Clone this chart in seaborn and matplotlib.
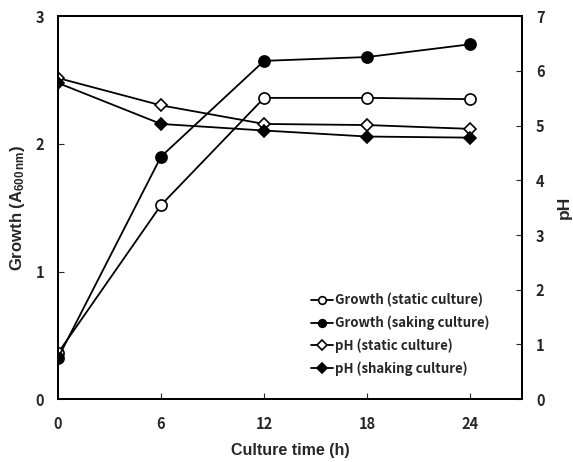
import matplotlib
matplotlib.use("Agg")
import matplotlib.pyplot as plt
import seaborn as sns
import pandas as pd

time_h = [0, 6, 12, 18, 24]
growth_static = [0.36, 1.52, 2.36, 2.36, 2.35]
growth_shaking = [0.32, 1.90, 2.65, 2.68, 2.78]
ph_static = [5.87, 5.37, 5.03, 5.01, 4.94]
ph_shaking = [5.78, 5.03, 4.91, 4.80, 4.78]

labels = ["Growth (static culture)", "Growth (saking culture)",
          "pH (static culture)", "pH (shaking culture)"]


def main():
    sns.set_style("ticks")
    plt.rcParams["font.family"] = ["Noto Sans CJK KR", "DejaVu Sans"]
    plt.rcParams["mathtext.fontset"] = "custom"
    plt.rcParams["mathtext.rm"] = "Liberation Sans"

    df = pd.DataFrame({"time": time_h, "gs": growth_static, "gk": growth_shaking,
                       "ps": ph_static, "pk": ph_shaking})

    fig = plt.figure(figsize=(5.73, 4.62), dpi=100)
    ax = fig.add_axes([0.101, 0.136, 0.81, 0.829])
    ax2 = ax.twinx()

    line_kw = dict(color="black", linewidth=1.3, markeredgecolor="black", markeredgewidth=1.2)
    sns.lineplot(data=df, x="time", y="gs", ax=ax, marker="o", markersize=8,
                 markerfacecolor="white", label=labels[0], legend=False, **line_kw)
    sns.lineplot(data=df, x="time", y="gk", ax=ax, marker="o", markersize=8,
                 markerfacecolor="black", label=labels[1], legend=False, **line_kw)
    sns.lineplot(data=df, x="time", y="ps", ax=ax2, marker="D", markersize=6,
                 markerfacecolor="white", label=labels[2], legend=False, **line_kw)
    sns.lineplot(data=df, x="time", y="pk", ax=ax2, marker="D", markersize=6,
                 markerfacecolor="black", label=labels[3], legend=False, **line_kw)

    ax.set_xlim(0, 27)
    ax.set_ylim(0, 3)
    ax2.set_ylim(0, 7)
    ax.set_xticks(time_h)
    ax.set_yticks([0, 1, 2, 3])
    ax2.set_yticks(range(0, 8))

    tick_font = dict(fontsize=10.5, fontweight="bold")
    ax.set_xticklabels([str(t) for t in time_h], **tick_font)
    ax.set_yticklabels(["0", "1", "2", "3"], **tick_font)
    ax2.set_yticklabels([str(v) for v in range(0, 8)], **tick_font)

    ax.tick_params(axis="x", direction="in", length=4, width=0.8, pad=12)
    ax.tick_params(axis="y", direction="in", length=4, width=0.8, pad=10)
    ax2.tick_params(axis="y", direction="in", length=4, width=0.8, pad=10)

    for a in (ax, ax2):
        for s in a.spines.values():
            s.set_visible(True)
            s.set_linewidth(1.4)
            s.set_color("black")

    ax.set_xlabel("Culture time (h)", fontsize=11.5, fontweight="bold",
                  family="Liberation Sans", labelpad=8)
    ax.set_ylabel(r"Growth (A$\mathregular{_{600\,nm}}$)", fontsize=12, fontweight="bold",
                  family="Liberation Sans", labelpad=6)
    ax2.set_ylabel("pH", fontsize=12.5, fontweight="bold", family="Liberation Sans",
                   labelpad=9)

    handles = ax.get_lines()[:2] + ax2.get_lines()[:2]
    leg = ax2.legend(handles, labels, loc="lower right", bbox_to_anchor=(0.955, 0.03),
                     frameon=False, handlelength=1.7, handletextpad=0.1,
                     labelspacing=0.62, prop=dict(size=9.5, weight="bold",
                                                  family=["Noto Sans CJK KR", "DejaVu Sans"]))
    for h in leg.legend_handles:
        h.set_markersize(5.5)

    fig.savefig("out.png", dpi=100)


if __name__ == "__main__":
    main()
